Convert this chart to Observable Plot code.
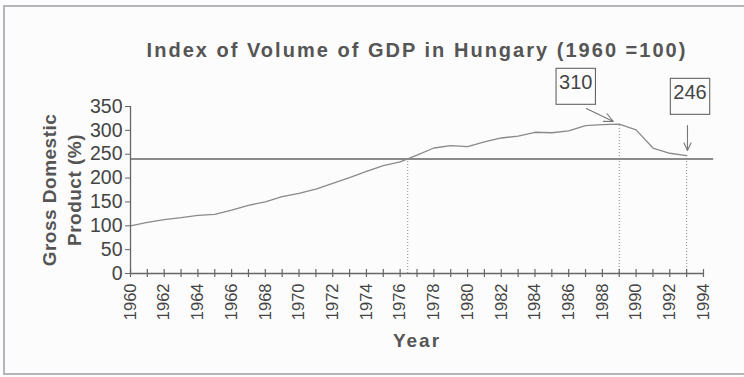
<!DOCTYPE html>
<html><head><meta charset="utf-8">
<script src="https://cdn.jsdelivr.net/npm/d3@7"></script>
<script src="https://cdn.jsdelivr.net/npm/@observablehq/plot@0.6"></script>
<style>
body{margin:0;background:#fff;}
#wrap{position:relative;width:744px;height:377px;overflow:hidden;background:#fcfcfc}
#wrap svg{position:absolute;left:0;top:0}
#border{position:absolute;left:3px;top:5px;width:800px;height:366px;border:2px solid #b6b6ba;pointer-events:none}
</style></head>
<body><div id="wrap"><div id="border"></div></div>
<script>
const years = [1960,1961,1962,1963,1964,1965,1966,1967,1968,1969,1970,1971,1972,1973,1974,1975,1976,1977,1978,1979,1980,1981,1982,1983,1984,1985,1986,1987,1988,1989,1990,1991,1992,1993];
const gdp   = [100,107,113,117,122,124,133,143,150,161,168,177,189,201,214,226,234,248,263,268,266,276,284,288,296,295,299,310,312,313,301,263,252,247];
const xTicks = [1960,1961,1962,1963,1964,1965,1966,1967,1968,1969,1970,1971,1972,1973,1974,1975,1976,1977,1978,1979,1980,1981,1982,1983,1984,1985,1986,1987,1988,1989,1990,1991,1992,1993,1994];
const xLabels = [1960,1962,1964,1966,1968,1970,1972,1974,1976,1978,1980,1982,1984,1986,1988,1990,1992,1994];
const yTicks = [0,50,100,150,200,250,300,350];
const refLevel = 240;
const refEnd = 1994.6;
const guideYears = [1976.45, 1989, 1993];
const guideValues = [240, 313, 247];
const calloutText = ["310", "246"];
const calloutX = [1986.42, 1993.2];
const calloutY = [386, 365];
const arrowX1 = [1987.05, 1993.05], arrowY1 = [346, 310];
const arrowX2 = [1988.65, 1993.05], arrowY2 = [318.6, 258];
const titleText = "Index of Volume of GDP in Hungary (1960 =100)";
const yLabelText = "Gross Domestic\nProduct (%)";
const xLabelText = "Year";

const rows = years.map((y, i) => ({year: y, gdp: gdp[i]}));
const guides = guideYears.map((y, i) => ({year: y, value: guideValues[i]}));
const callouts = calloutText.map((t, i) => ({text: t, x: calloutX[i], y: calloutY[i]}));
const arrows = arrowX1.map((x, i) => ({x1: x, y1: arrowY1[i], x2: arrowX2[i], y2: arrowY2[i]}));

const chart = Plot.plot({
  width: 744, height: 377,
  marginLeft: 130, marginRight: 41, marginTop: 106, marginBottom: 104,
  x: {domain: [1960, 1994]},
  y: {domain: [0, 350]},
  style: {fontFamily: "'Liberation Sans', Arial, sans-serif", background: "transparent", color: "#444"},
  marks: [
    Plot.ruleY([refLevel], {x1: 1960, x2: refEnd, stroke: "#666", strokeWidth: 1.3}),
    Plot.ruleX(guides, {x: "year", y1: 0, y2: "value", stroke: "#888", strokeDasharray: "1,2"}),
    Plot.line(rows, {x: "year", y: "gdp", stroke: "#8a8a8a", strokeWidth: 1.3}),
    Plot.ruleY([0], {stroke: "#666", strokeWidth: 1.3}),
    Plot.ruleX([1960], {stroke: "#666", strokeWidth: 1.3}),
    Plot.tickX(xTicks, {x: d => d, insetTop: 163, insetBottom: -4, stroke: "#666", strokeWidth: 1.2}),
    Plot.axisY({ticks: yTicks, tickSize: 5, tickPadding: 3, fontSize: 19.5, label: null, stroke: "#666", fill: "#444"}),
    Plot.axisX({ticks: xLabels, tickSize: 0, tickRotate: -90, tickPadding: 10, fontSize: 16.5, label: null, tickFormat: d => String(d), fill: "#444"}),
    Plot.text([titleText], {frameAnchor: "top", dy: -50, lineAnchor: "bottom", fontSize: 20, fontWeight: "bold", fill: "#555"}),
    Plot.text([yLabelText], {frameAnchor: "left", rotate: -90, dx: -70, textAnchor: "middle", fontSize: 19, fontWeight: "bold", fill: "#555", lineHeight: 1.3, lineAnchor: "middle"}),
    Plot.text([xLabelText], {frameAnchor: "bottom", dy: 73, lineAnchor: "bottom", fontSize: 19, fontWeight: "bold", fill: "#555"}),
    Plot.text(callouts, {x: "x", y: "y", text: "text", fontSize: 20, lineAnchor: "bottom", fill: "#444", clip: false}),
    Plot.arrow(arrows, {x1: "x1", y1: "y1", x2: "x2", y2: "y2", headLength: 18, headAngle: 50, stroke: "#777", strokeWidth: 1.1})
  ]
});
document.getElementById("wrap").insertBefore(chart, document.getElementById("border"));

// spacing for bold labels and boxes round callouts
d3.select(chart).selectAll("text").each(function() {
  const t = this.textContent;
  if (t === titleText) {
    const w = this.getComputedTextLength();
    const ls = (539 - w) / (t.length - 1);
    this.setAttribute("letter-spacing", ls.toFixed(2));
  }
  if (t === xLabelText) this.setAttribute("letter-spacing", "2");
});
d3.select(chart).selectAll("tspan").each(function() {
  if (yLabelText.split("\n").includes(this.textContent)) this.parentNode.setAttribute("letter-spacing", "0.5");
});
d3.select(chart).selectAll("text").filter(function() { return calloutText.includes(this.textContent); }).each(function() {
  const b = this.getBBox();
  const g = this.parentNode;
  const r = document.createElementNS("http://www.w3.org/2000/svg", "rect");
  r.setAttribute("x", b.x - 3); r.setAttribute("y", b.y - 3);
  r.setAttribute("width", b.width + 6); r.setAttribute("height", b.height + 14);
  r.setAttribute("fill", "none"); r.setAttribute("stroke", "#666"); r.setAttribute("stroke-width", "1.1");
  const tr = this.getAttribute("transform");
  if (tr) r.setAttribute("transform", tr);
  g.insertBefore(r, this);
});
</script>
</body></html>
